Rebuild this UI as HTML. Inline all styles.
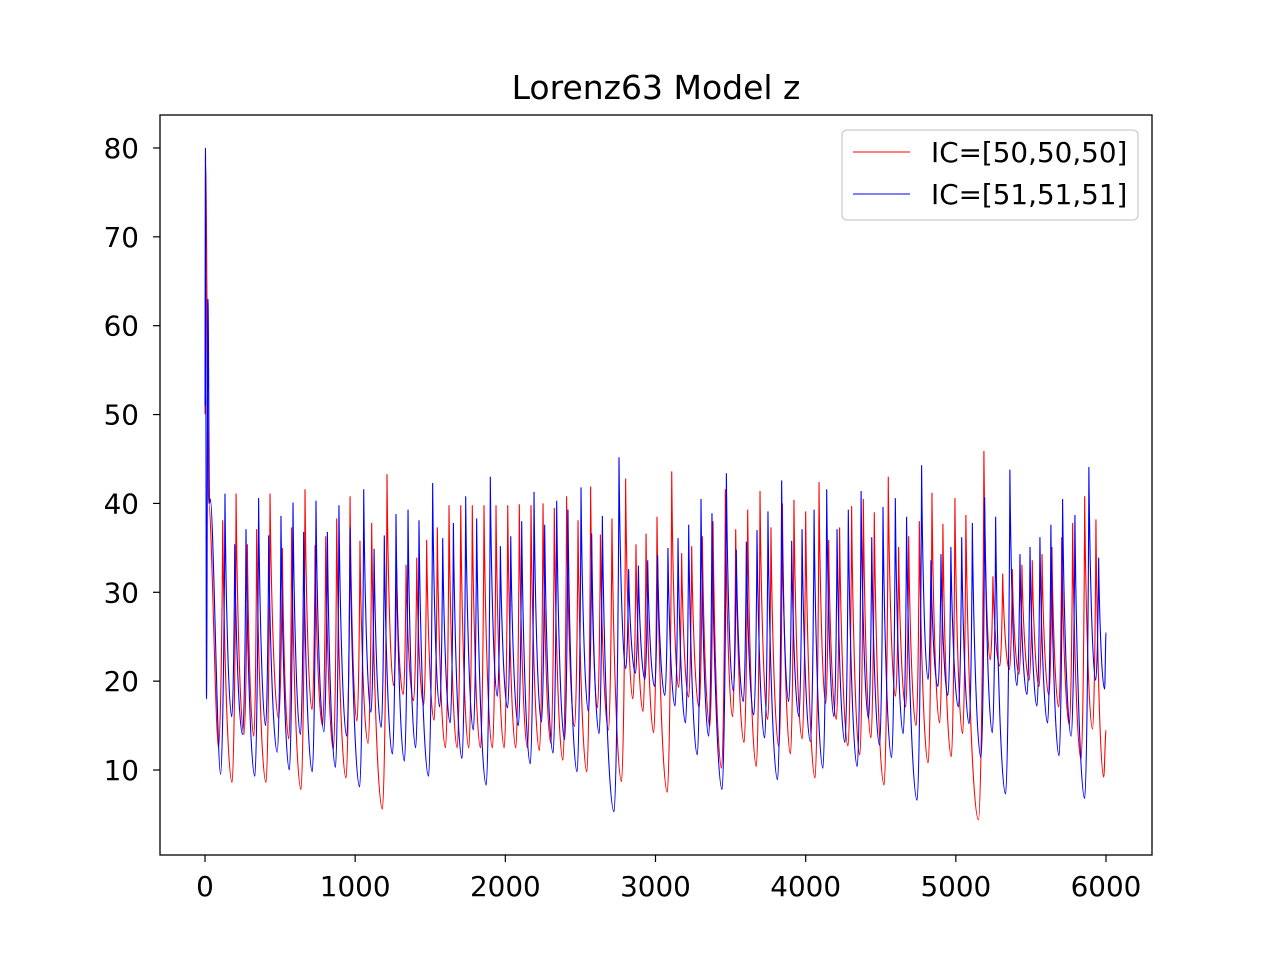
<!DOCTYPE html>
<html><head><meta charset="utf-8"><style>
body{margin:0;background:#fff}
svg text{font-family:"DejaVu Sans","Liberation Sans",sans-serif;fill:#000}
</style></head><body>
<svg width="1280" height="960" viewBox="0 0 1280 960">
<rect x="0" y="0" width="1280" height="960" fill="#fff"/>
<text x="656" y="99" text-anchor="middle" font-size="33">Lorenz63 Model z</text>
<defs><clipPath id="pc"><rect x="160" y="115" width="992" height="740"/></clipPath></defs>
<g id="series" clip-path="url(#pc)"></g>
<rect x="160" y="115" width="992" height="740" fill="none" stroke="#000" stroke-width="1.3"/>
<g id="xticks"></g>
<g id="yticks"></g>
<g>
<rect x="842" y="130" width="296" height="90" rx="5" fill="#fff" fill-opacity="0.8" stroke="#ccc" stroke-width="1.3"/>
<line x1="853" y1="152" x2="910" y2="152" stroke="#f00" stroke-width="1"/>
<text x="931" y="162" font-size="27.8">IC=[50,50,50]</text>
<line x1="853" y1="194" x2="910" y2="194" stroke="#00f" stroke-width="1"/>
<text x="931" y="204" font-size="27.8">IC=[51,51,51]</text>
</g>
</svg>
<script>
const xTicks=[0,1000,2000,3000,4000,5000,6000];
const yTicks=[10,20,30,40,50,60,70,80];
const redHeadT=[0,4,25];
const redHeadZ=[50,78,40];
const redPeakT=[118,207,282,344,433,515,577,666,733,804,877,966,1032,1110,1212,1276,1339,1410,
1476,1547,1625,1703,1780,1858,1938,2016,2093,2171,2251,2326,2408,2484,2568,2633,2710,2801,2870,2937,
3010,3108,3174,3241,3312,3383,3465,3534,3614,3696,3769,3845,3922,4000,4089,4153,4226,4306,4384,4457,
4550,4619,4686,4757,4841,4914,4994,5067,5187,5247,5312,5376,5440,5509,5574,5640,5705,5778,5858,5933];
const redPeakZ=[38.1,41.1,35.4,37.1,41.1,35,37.3,41.6,35.3,36.3,38.3,40.8,35.8,37.8,43.3,32.6,33.1,33.9,
35.9,37.3,39.8,39.8,39.8,39.8,39.8,39.8,39.9,39.8,40,39.5,40.8,38.1,41.9,36.5,38.3,42.8,35.4,36.6,
38.5,43.6,34.4,35.2,36.3,38,41.6,37.1,39.3,41.4,37.3,40,40.4,39.1,42.4,35.9,37.3,39.7,40.5,39,
43,35.1,36.3,38,41.2,37.7,40.6,38.7,45.9,31.8,32.1,32.6,33.1,33.6,34.3,35.1,36.2,37.8,40.8,38.2];
const redTroughZ=[12.5,8.6,14,13.8,8.6,15.8,13.5,7.8,16.8,15,12.3,9.1,15.5,13,5.6,19.5,18.5,17.8,
17.3,15.6,12.5,12.5,12.5,12.5,12.5,12.5,12.5,12.5,12.2,13,11.1,14.9,9.8,17,14.5,8.7,18,16.6,
14.2,7.5,19.3,18.2,17,14.9,10.2,16,13.1,10.4,15.7,12.6,11.8,13.5,9.1,17.5,15.7,12.7,11.7,13.6,
8.3,18.3,17.1,15,10.8,15.3,11.5,14.1,4.4,22.4,21.7,21.3,20.8,20.1,19.4,18.4,17.1,15.1,11.2,14.6];
const redTailT=[5985,6000];
const redTailZ=[9.2,14.5];
const blueHeadT=[0,3,10,20,30,35];
const blueHeadZ=[51,80,18,63,40,40.5];
const bluePeakT=[133,198,273,357,424,506,586,657,739,815,892,966,1057,1126,1194,1272,1352,1425,
1516,1583,1654,1736,1809,1900,1967,2036,2109,2191,2262,2342,2417,2504,2575,2646,2757,2821,2886,2948,
3014,3083,3150,3221,3303,3376,3472,3538,3605,3676,3749,3840,3907,3976,4056,4140,4209,4284,4369,4440,
4515,4597,4672,4772,4834,4901,4967,5039,5110,5192,5265,5360,5427,5494,5560,5633,5711,5793,5886,5951];
const bluePeakZ=[41.1,35.4,37.1,40.6,36.4,38.6,40.1,36.8,40.3,36.8,39.8,37.3,41.6,34.9,36.4,38.8,39.3,38.1,
42.3,36.1,37.8,40.8,38.3,43,35.2,36.3,38,41.3,37.6,40.3,39.3,41.8,36.6,38.6,45.2,32.6,33,33.6,
34.2,35,36.1,37.6,40.5,38.9,43.4,34.8,35.7,37,39.1,42.6,35.8,37.1,39.3,41.6,37.1,39.3,41.4,36.2,
39.6,40.6,38.5,44.3,33.6,34.3,35.1,36.2,37.8,40.7,38.5,43.8,34.3,35.1,36.2,37.6,40.5,38.7,44.1,33.9];
const blueTroughZ=[9.5,16,14,9.3,15,12,10,14,9.8,14.3,10.3,13.8,8.1,16.5,14.8,11.8,11,12.5,
9.3,17.1,15.3,11.3,14.5,8.3,18.3,17,15,10.7,15.4,11.9,13.4,9.8,16.6,14.1,5.3,21.4,20.9,20.2,
19.4,18.4,17.2,15.3,11.7,13.8,7.8,18.9,17.7,16.2,13.6,8.9,17.7,16,13.2,10.2,16,13.1,10.4,15.8,
12.8,11.4,14.1,6.6,20.2,19.4,18.4,17.1,15.2,11.4,14.2,7.3,19.5,18.5,17.2,15.3,11.6,13.8,6.8,20.1];
const blueTailT=[5991,6000];
const blueTailZ=[19.1,25.5];

const NS='http://www.w3.org/2000/svg';
function X(t){return 205+t*(901/6000);}
function Y(z){return 770-(z-10)*8.886;}

function buildPoints(hT,hZ,pT,pZ,tZ,eT,eZ){
  const pts=[];
  for(let i=0;i<hT.length;i++)pts.push({t:hT[i],z:hZ[i],k:'h'});
  let prev=hT[hT.length-1];
  for(let i=0;i<pT.length;i++){
    const tt=pT[i]-0.3*(pT[i]-prev);
    pts.push({t:tt,z:tZ[i],k:'tr'});
    pts.push({t:pT[i],z:pZ[i],k:'pk'});
    prev=pT[i];
  }
  for(let i=0;i<eT.length;i++)pts.push({t:eT[i],z:eZ[i],k:'h'});
  return pts;
}
function pathFrom(pts){
  let d='M'+X(pts[0].t).toFixed(2)+' '+Y(pts[0].z).toFixed(2);
  for(let i=1;i<pts.length;i++){
    const a=pts[i-1],b=pts[i];
    const x0=X(a.t),y0=Y(a.z),x1=X(b.t),y1=Y(b.z),dx=x1-x0;
    let c1x,c1y,c2x,c2y;
    if(b.k==='pk'){c1x=x0+dx*0.5;c1y=y0;c2x=x1-dx*0.08;c2y=y1+(y0-y1)*0.35;}
    else if(a.k==='pk'){c1x=x0+dx*0.12;c1y=y0+(y1-y0)*0.45;c2x=x1-dx*0.45;c2y=y1;}
    else {c1x=x0+dx*0.3;c1y=y0;c2x=x1-dx*0.3;c2y=y1;}
    d+=' C'+c1x.toFixed(2)+' '+c1y.toFixed(2)+' '+c2x.toFixed(2)+' '+c2y.toFixed(2)+' '+x1.toFixed(2)+' '+y1.toFixed(2);
  }
  return d;
}
const g=document.getElementById('series');
const red=document.createElementNS(NS,'path');


red.setAttribute('d',pathFrom(buildPoints(redHeadT,redHeadZ,redPeakT,redPeakZ,redTroughZ,redTailT,redTailZ)));
red.setAttribute('fill','none');red.setAttribute('stroke','#f00');red.setAttribute('stroke-width','1.1');
g.appendChild(red);
const blue=document.createElementNS(NS,'path');


blue.setAttribute('d',pathFrom(buildPoints(blueHeadT,blueHeadZ,bluePeakT,bluePeakZ,blueTroughZ,blueTailT,blueTailZ)));
blue.setAttribute('fill','none');blue.setAttribute('stroke','#00f');blue.setAttribute('stroke-width','1.1');
g.appendChild(blue);

const xg=document.getElementById('xticks');
xTicks.forEach(v=>{
  const l=document.createElementNS(NS,'line');
  
  
  l.setAttribute('x1',X(v));l.setAttribute('x2',X(v));l.setAttribute('y1',855);l.setAttribute('y2',862);
  l.setAttribute('stroke','#000');l.setAttribute('stroke-width','1.2');xg.appendChild(l);
  const t=document.createElementNS(NS,'text');
  
  
  t.setAttribute('x',X(v));t.setAttribute('y',896);t.setAttribute('text-anchor','middle');t.setAttribute('font-size','27.8');
  t.textContent=v;xg.appendChild(t);
});
const yg=document.getElementById('yticks');
yTicks.forEach(v=>{
  const l=document.createElementNS(NS,'line');
  
  
  l.setAttribute('x1',153);l.setAttribute('x2',160);l.setAttribute('y1',Y(v));l.setAttribute('y2',Y(v));
  l.setAttribute('stroke','#000');l.setAttribute('stroke-width','1.2');yg.appendChild(l);
  const t=document.createElementNS(NS,'text');
  
  
  t.setAttribute('x',139);t.setAttribute('y',Y(v)+10);t.setAttribute('text-anchor','end');t.setAttribute('font-size','27.8');
  t.textContent=v;yg.appendChild(t);
});
</script>
</body></html>
